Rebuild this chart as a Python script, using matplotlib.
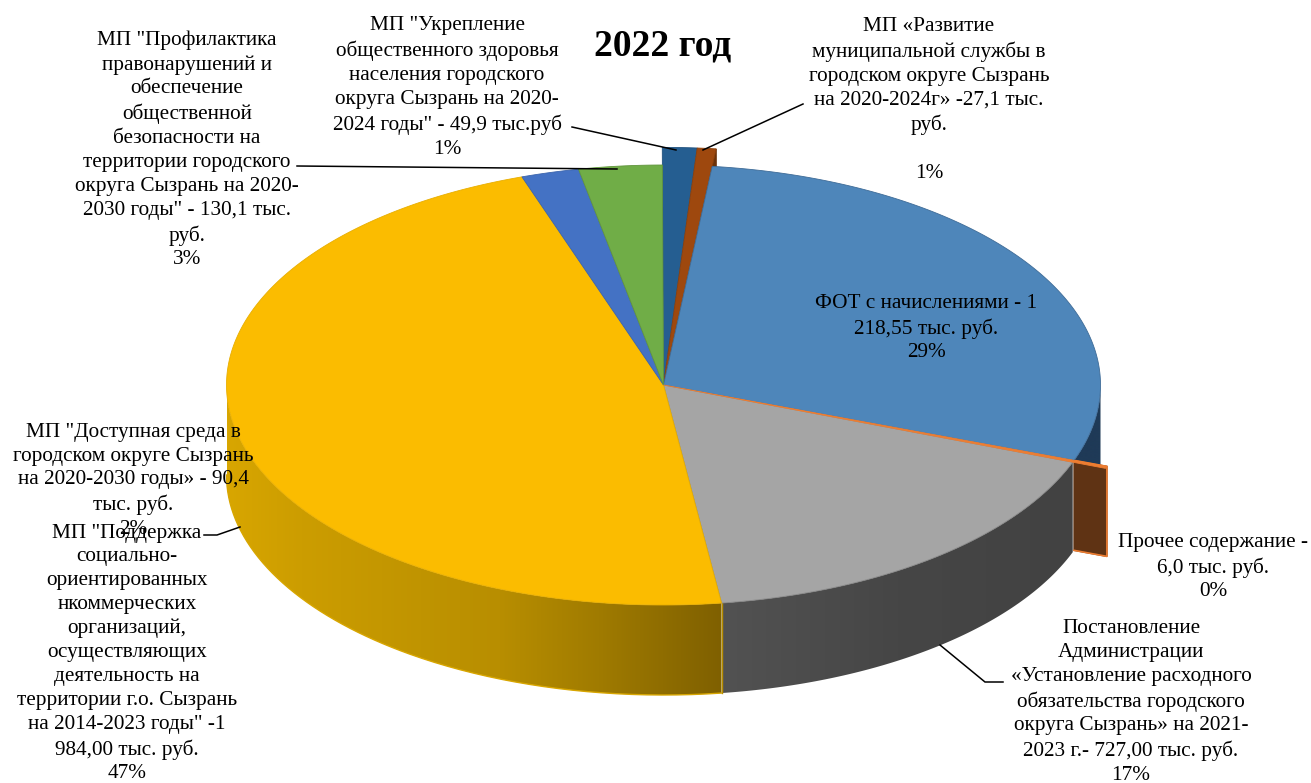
import numpy as np
import matplotlib
matplotlib.use("Agg")
import matplotlib.pyplot as plt
from matplotlib.colors import LinearSegmentedColormap, to_rgb
from matplotlib.patches import Polygon

plt.rcParams['font.family'] = ['Liberation Serif', 'DejaVu Serif']

# ---- data ----
categories = ['ФОТ с начислениями', 'Прочее содержание', 'Постановление Администрации',
              'МП Поддержка СОНКО', 'МП Доступная среда', 'МП Профилактика правонарушений',
              'МП Укрепление здоровья', 'МП Развитие муниципальной службы']
values = [1218.55, 6.0, 727.0, 1984.0, 90.4, 130.1, 49.9, 27.1]
top_colors = ['#4E86BA', '#ED7D31', '#A5A5A5', '#FBBC00', '#4472C4', '#70AD47', '#255E91', '#9E480E']
side_colors = ['#1F3A57', '#5F3314', '#464646', '#C49500', '#2A4A80', '#44692B', '#173A5A', '#6B3209']
exploded = [False, True, False, False, False, False, True, True]

labels = [
    'ФОТ с начислениями - 1\n218,55 тыс. руб.\n29%',
    'Прочее содержание -\n6,0 тыс. руб.\n0%',
    'Постановление\nАдминистрации\n«Установление расходного\nобязательства городского\nокруга Сызрань» на 2021-\n2023 г.- 727,00 тыс. руб.\n17%',
    'МП "Поддержка\nсоциально-\nориентированных\nнкоммерческих\nорганизаций,\nосуществляющих\nдеятельность на\nтерритории г.о. Сызрань\nна 2014-2023 годы" -1\n984,00 тыс. руб.\n47%',
    'МП "Доступная среда в\nгородском округе Сызрань\nна 2020-2030 годы» - 90,4\nтыс. руб.\n2%',
    'МП "Профилактика\nправонарушений и\nобеспечение\nобщественной\nбезопасности на\nтерритории городского\nокруга Сызрань на 2020-\n2030 годы" - 130,1 тыс.\nруб.\n3%',
    'МП "Укрепление\nобщественного здоровья\nнаселения городского\nокруга Сызрань на 2020-\n2024 годы" - 49,9 тыс.руб\n1%',
    'МП «Развитие\nмуниципальной службы в\nгородском округе Сызрань\nна 2020-2024г» -27,1 тыс.\nруб.\n\n1%',
]
label_pos = [(926, 328), (1213, 567), (1131, 702), (127, 653.5), (133, 481), (187, 150), (447, 87.5), (929, 100)]
title = '2022 год'

# leader lines, pixel layout
leaders = [
    ([572, 676], [127, 150]),
    ([803, 703], [104, 150]),
    ([297, 617], [166, 169]),
    ([204, 217, 240], [535, 535, 527]),
    ([1003, 985, 940], [682, 682, 645]),
]

# ---- geometry ----
CX, CY, RX, RY, DEPTH = 663.5, 385.0, 437.0, 220.0, 90.0
START_DEG = 6.4
EXPLODE = 1.08
FONT = 15.3
LINESP = 1.345

fig = plt.figure(figsize=(13.11, 7.83), dpi=100)
ax = fig.add_axes([0, 0, 1, 1])
ax.set_xlim(0, 1311)
ax.set_ylim(783, 0)
ax.axis('off')


def pt(t, scale=1.0, dy=0.0):
    t = np.radians(t)
    return CX + RX * scale * np.sin(t), CY - RY * scale * np.cos(t) + dy


shares = np.array(values) / np.sum(values) * 360.0
ends = START_DEG + np.cumsum(shares)
starts = ends - shares

yellow_cmap = LinearSegmentedColormap.from_list(
    'wall_y', [(0, '#D8A600'), (0.15, '#CC9D00'), (0.55, '#B88E00'), (0.75, '#A07B00'), (1, '#7F6000')])
grey_cmap = LinearSegmentedColormap.from_list('wall_g', ['#525252', '#464646', '#424242'])
blue_cmap = LinearSegmentedColormap.from_list('wall_b', [side_colors[0], side_colors[0]])


def wall(t0, t1, cmap, reverse=False):
    ts = np.linspace(t0, t1, 200)
    x, y = pt(ts)
    xy = np.c_[np.r_[x, x[::-1]], np.r_[y, y[::-1] + DEPTH]]
    poly = Polygon(xy, closed=True, facecolor='none', edgecolor='none', transform=ax.transData)
    ax.add_patch(poly)
    grad = np.linspace(0, 1, 512)[None, :]
    if reverse:
        grad = grad[:, ::-1]
    im = ax.imshow(grad, extent=(x.min(), x.max(), xy[:, 1].max(), xy[:, 1].min()),
                   cmap=cmap, aspect='auto', zorder=1, interpolation='bilinear')
    im.set_clip_path(poly)


# visible walls: the near half of the pie only
wall(90, ends[0], blue_cmap)
wall(ends[1], ends[2], grey_cmap)
wall(ends[2], 270, yellow_cmap)
ax.set_xlim(0, 1311)
ax.set_ylim(783, 0)

# rim line along the bottom of the yellow wall
ts = np.linspace(ends[2], 270, 200)
bx, by = pt(ts, dy=DEPTH)
ax.plot(bx, by, color='#D8A600', lw=1.0, zorder=1.5)
xa, ya = pt(ends[2])
ax.plot([xa, xa], [ya, ya + DEPTH], color='#B88E00', lw=1.0, zorder=1.5)

# cut face of the thin exploded slice at the right
xi, yi = pt(ends[0])
xo, yo = pt(ends[0], EXPLODE)
ax.fill([xi, xo, xo, xi], [yi, yo, yo + DEPTH, yi + DEPTH], color=side_colors[1], zorder=1.6)
ax.plot([xi, xo, xo, xi], [yi + DEPTH, yo + DEPTH, yo, yi], color=top_colors[1], lw=1.2, zorder=1.7)

# cut face seen behind the small raised back slice
xi, yi = pt(ends[7])
xo, yo = pt(ends[7], EXPLODE)
ax.fill([xi, xo, xo, xi], [yi, yo, yo + DEPTH, yi + DEPTH], color=side_colors[7], zorder=1.6)

# top faces: raised slices first, so the main rim covers the foot of their walls
order = sorted(range(len(values)), key=lambda k: not exploded[k])
for i in order:
    a, b = starts[i], ends[i]
    scale = EXPLODE if exploded[i] else 1.0
    ts = np.linspace(a, b, max(int(b - a) * 2, 2))
    x, y = pt(ts, scale)
    z = 2 if i in (6, 7) else 3
    if i == 1:
        z = 4
    edge = top_colors[1] if i == 1 else tuple(
        0.65 * t + 0.35 * s for t, s in zip(to_rgb(top_colors[i]), to_rgb(side_colors[i])))
    ax.fill(np.r_[CX, x], np.r_[CY, y], facecolor=top_colors[i], edgecolor=edge,
            lw=0.6, zorder=z)

# leaders and labels
for lx, ly in leaders:
    ax.plot(lx, ly, color='black', lw=1.1, zorder=5, solid_joinstyle='miter')

for text, (x, y) in zip(labels, label_pos):
    ax.text(x, y, text, ha='center', va='center', multialignment='center',
            fontsize=FONT, color='black', linespacing=LINESP, zorder=6)

ax.text(663, 46, title, ha='center', va='center', fontsize=27, fontweight='bold', color='black', zorder=6)

fig.savefig('out.png', dpi=100)
